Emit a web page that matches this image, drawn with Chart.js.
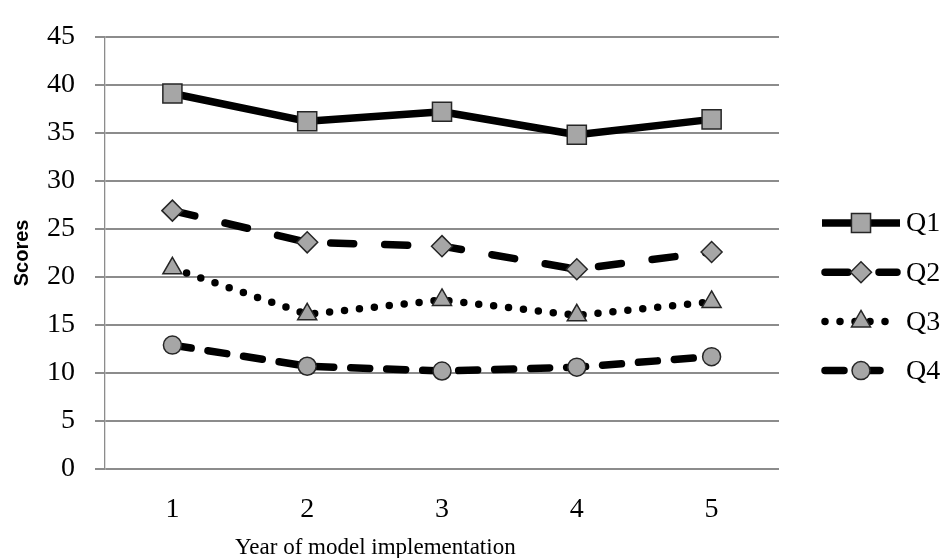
<!DOCTYPE html>
<html>
<head>
<meta charset="utf-8">
<script src="https://cdn.jsdelivr.net/npm/chart.js@4/dist/chart.umd.min.js"></script>
<style>
  html, body { margin: 0; padding: 0; background: #fff; }
  #scoreChart { display: block; }
</style>
</head>
<body>
<canvas id="scoreChart" width="946" height="558"></canvas>
<script>
// Data
const years = ['1', '2', '3', '4', '5'];
const seriesNames = ['Q1', 'Q2', 'Q3', 'Q4'];
const q1Scores = [39.1, 36.2, 37.2, 34.8, 36.4];
const q2Scores = [26.9, 23.6, 23.2, 20.8, 22.6];
const q3Scores = [20.9, 16.1, 17.6, 16.0, 17.4];
const q4Scores = [12.9, 10.7, 10.2, 10.6, 11.7];
const yMin = 0, yMax = 45, yStep = 5;

const serif = '"Liberation Serif", "Times New Roman", serif';
const markerFill = '#a6a6a6';
const markerEdge = '#262626';

function makeSeries(label, data, dash, style, radius) {
    return {
        label: label,
        data: data,
        borderColor: '#000',
        borderWidth: 7.5,
        borderDash: dash,
        borderCapStyle: dash.length ? 'round' : 'butt',
        borderJoinStyle: 'round',
        tension: 0,
        fill: false,
        pointStyle: style,
        pointRadius: radius,
        pointHoverRadius: radius,
        pointBackgroundColor: markerFill,
        pointBorderColor: markerEdge,
        pointBorderWidth: 1.5
    };
}

// Legend drawn as line + marker samples on the right
const lineLegend = {
    id: 'lineLegend',
    afterDraw(chart) {
        const ctx = chart.ctx;
        const x0 = 822, x1 = 900, top = 223, gap = 49.2;
        chart.data.datasets.forEach((ds, i) => {
            const y = top + i * gap;
            ctx.save();
            ctx.strokeStyle = ds.borderColor;
            ctx.lineWidth = ds.borderWidth;
            ctx.lineCap = ds.borderCapStyle;
            ctx.setLineDash(ds.borderDash);
            ctx.beginPath();
            ctx.moveTo(x0 + (ds.borderDash.length ? 3 : 0), y);
            ctx.lineTo(x1 - (ds.borderDash.length ? 3 : 0), y);
            ctx.stroke();
            ctx.setLineDash([]);
            ctx.fillStyle = ds.pointBackgroundColor;
            ctx.strokeStyle = ds.pointBorderColor;
            ctx.lineWidth = ds.pointBorderWidth;
            Chart.helpers.drawPoint(ctx, {
                pointStyle: ds.pointStyle,
                radius: ds.pointRadius,
                rotation: 0,
                borderWidth: ds.pointBorderWidth
            }, (x0 + x1) / 2, y);
            ctx.fillStyle = '#000';
            ctx.font = '28px ' + serif;
            ctx.textAlign = 'left';
            ctx.textBaseline = 'middle';
            ctx.fillText(ds.label, 906, y + 1);
            ctx.restore();
        });
    }
};

// X axis title sits left of centre in the original
const xTitle = {
    id: 'xTitle',
    afterDraw(chart) {
        const ctx = chart.ctx;
        ctx.save();
        ctx.fillStyle = '#000';
        ctx.font = '23px ' + serif;
        ctx.textAlign = 'left';
        ctx.textBaseline = 'alphabetic';
        ctx.fillText('Year of model implementation', 235, 554);
        ctx.restore();
    }
};

const ctx = document.getElementById('scoreChart').getContext('2d');
const scoreChart = new Chart(ctx, {
    type: 'line',
    data: {
        labels: years,
        datasets: [
            makeSeries(seriesNames[0], q1Scores, [], 'rect', 13.5),
            makeSeries(seriesNames[1], q2Scores, [23, 31], 'rectRot', 10.5),
            makeSeries(seriesNames[2], q3Scores, [0, 15], 'triangle', 11),
            makeSeries(seriesNames[3], q4Scores, [19, 17], 'circle', 9)
        ]
    },
    options: {
        responsive: false,
        devicePixelRatio: 1,
        animation: false,
        layout: {
            padding: { left: 0, right: 167, top: 27, bottom: 0 }
        },
        plugins: {
            legend: { display: false },
            tooltip: { enabled: false },
            title: { display: false }
        },
        scales: {
            x: {
                type: 'category',
                offset: true,
                grid: { display: false, drawTicks: false, tickLength: 0 },
                border: { display: false },
                ticks: {
                    color: '#000',
                    font: { family: serif, size: 28 },
                    padding: 24,
                    maxRotation: 0
                },
                afterFit(scale) { scale.height = 89; }
            },
            y: {
                min: yMin,
                max: yMax,
                ticks: {
                    stepSize: yStep,
                    color: '#000',
                    font: { family: serif, size: 28 },
                    padding: 20
                },
                grid: {
                    color: '#8c8c8c',
                    lineWidth: 2,
                    tickLength: 10,
                    drawTicks: true
                },
                border: { display: true, color: '#8c8c8c', width: 1.3 },
                title: {
                    display: true,
                    text: 'Scores',
                    color: '#000',
                    font: { family: '"Liberation Sans", Arial, sans-serif', size: 20, weight: 'bold' },
                    padding: { top: 10, bottom: 0 }
                },
                afterFit(scale) { scale.width = 105; }
            }
        }
    },
    plugins: [lineLegend, xTitle]
});
</script>
</body>
</html>
